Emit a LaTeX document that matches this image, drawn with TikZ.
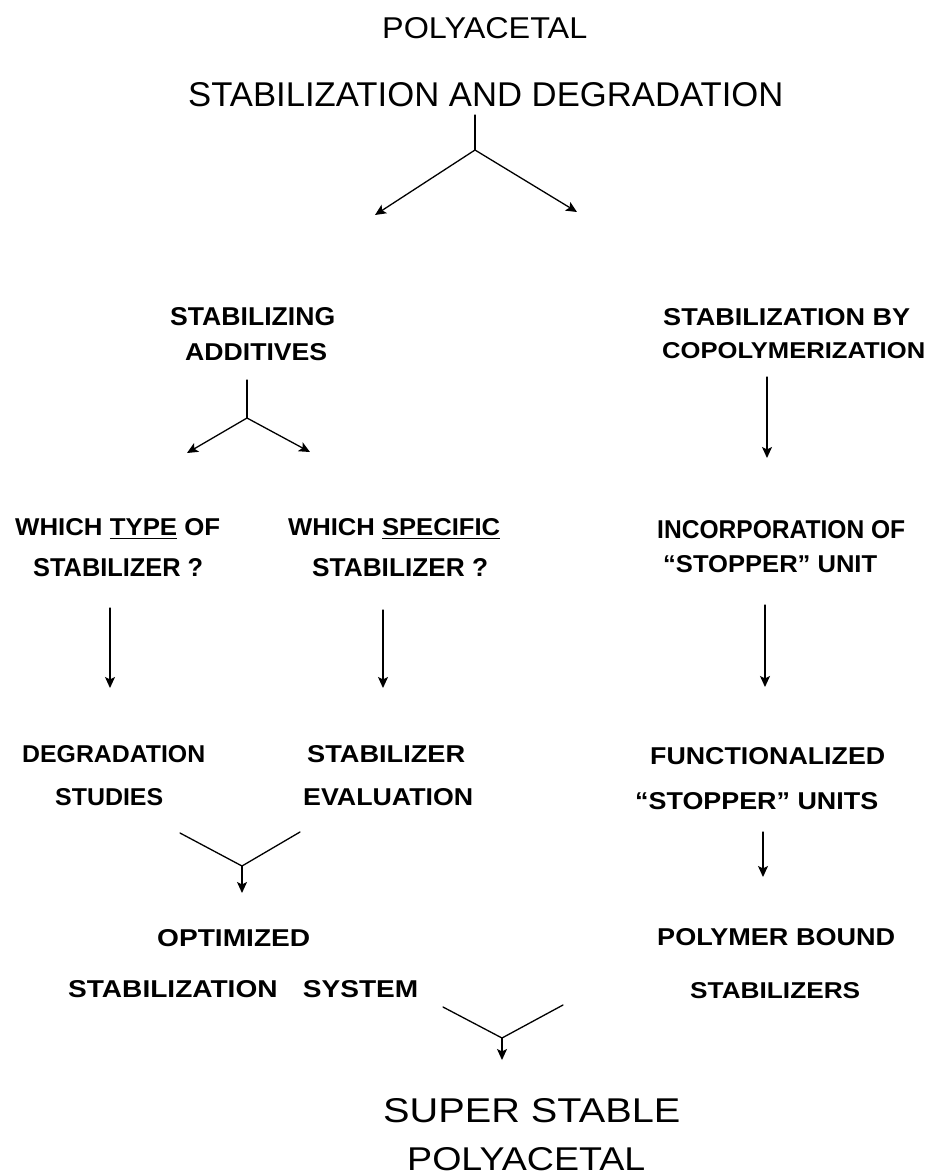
\documentclass[tikz,border=0pt]{standalone}
\usepackage{fontspec}
\usepackage{graphicx}
\setsansfont{Liberation Sans}
\usetikzlibrary{arrows.meta}
\newcommand{\fitln}[3]{\resizebox{#1pt}{#2pt}{#3}}
\tikzset{
  ttl/.style={anchor=base west, inner sep=0pt, font=\sffamily},
  lbl/.style={anchor=base west, inner sep=0pt, font=\sffamily\bfseries},
  conn/.style={line width=1.3pt, line cap=round, line join=round},
  arr/.style={conn, -{Stealth[length=11pt,width=10pt,inset=2.5pt]}}
}
\begin{document}
\begin{tikzpicture}[x=1pt,y=-1pt]
\useasboundingbox (0,0) rectangle (932,1176);
% titles
\node[ttl] (t1) at (382,38) {\fitln{205}{21}{POLYACETAL}};
\node[ttl] (t2) at (188,106) {\fitln{595}{24}{STABILIZATION AND DEGRADATION}};
% stabilizing additives
\node[lbl] (a1) at (170,325) {\fitln{165}{18}{STABILIZING}};
\node[lbl] (a2) at (185,360) {\fitln{142}{17}{ADDITIVES}};
% copolymerization
\node[lbl] (c1) at (663,325) {\fitln{247}{17}{STABILIZATION BY}};
\node[lbl] (c2) at (662,358) {\fitln{263}{16}{COPOLYMERIZATION}};
% which type
\node[lbl] (w1) at (15,535) {\fitln{205}{17}{WHICH \underline{TYPE} OF}};
\node[lbl] (w2) at (33,576) {\fitln{170}{18}{STABILIZER ?}};
% which specific
\node[lbl] (s1) at (288,535) {\fitln{212}{17}{WHICH \underline{SPECIFIC}}};
\node[lbl] (s2) at (312,576) {\fitln{176}{18}{STABILIZER ?}};
% incorporation
\node[lbl] (i1) at (657,538) {\fitln{248}{18}{INCORPORATION OF}};
\node[lbl] (i2) at (663,572) {\fitln{214}{17}{“STOPPER” UNIT}};
% degradation studies
\node[lbl] (d1) at (22,762) {\fitln{183}{17}{DEGRADATION}};
\node[lbl] (d2) at (55,805) {\fitln{108}{17}{STUDIES}};
% stabilizer evaluation
\node[lbl] (e1) at (307,762) {\fitln{158}{17}{STABILIZER}};
\node[lbl] (e2) at (303,805) {\fitln{170}{17}{EVALUATION}};
% functionalized
\node[lbl] (f1) at (650,764) {\fitln{235}{17}{FUNCTIONALIZED}};
\node[lbl] (f2) at (635,809) {\fitln{243}{17}{“STOPPER” UNITS}};
% optimized
\node[lbl] (o1) at (157,946) {\fitln{153}{17}{OPTIMIZED}};
\node[lbl] (o2) at (68,997) {\fitln{350}{17}{STABILIZATION\hspace{0.9em}SYSTEM}};
% polymer bound
\node[lbl] (p1) at (657,945) {\fitln{238}{17}{POLYMER BOUND}};
\node[lbl] (p2) at (690,998) {\fitln{170}{16}{STABILIZERS}};
% super stable
\node[ttl] (z1) at (383,1122) {\fitln{297}{24}{SUPER STABLE}};
\node[ttl] (z2) at (407,1170) {\fitln{238}{23}{POLYACETAL}};

% connector points
\coordinate (j0s) at (475,115);
\coordinate (j0) at (475,150);
\coordinate (j0l) at (375,215);
\coordinate (j0r) at (577,212);
\coordinate (j1s) at (247,380);
\coordinate (j1) at (247,418);
\coordinate (j1l) at (187,453);
\coordinate (j1r) at (310,452);
\coordinate (cS) at (767,377);
\coordinate (cE) at (767,458);
\coordinate (wS) at (110,608);
\coordinate (wE) at (110,688);
\coordinate (sS) at (383,610);
\coordinate (sE) at (383,688);
\coordinate (iS) at (765,605);
\coordinate (iE) at (765,687);
\coordinate (fS) at (763,832);
\coordinate (fE) at (763,877);
\coordinate (m1l) at (180,833);
\coordinate (m1r) at (300,832);
\coordinate (m1) at (242,866);
\coordinate (m1e) at (242,893);
\coordinate (m2l) at (443,1007);
\coordinate (m2r) at (563,1005);
\coordinate (m2) at (502,1038);
\coordinate (m2e) at (502,1060);

\draw[conn] (j0s) -- (j0);
\draw[arr] (j0) -- (j0l);
\draw[arr] (j0) -- (j0r);
\draw[conn] (j1s) -- (j1);
\draw[arr] (j1) -- (j1l);
\draw[arr] (j1) -- (j1r);
\draw[arr] (cS) -- (cE);
\draw[arr] (wS) -- (wE);
\draw[arr] (sS) -- (sE);
\draw[arr] (iS) -- (iE);
\draw[arr] (fS) -- (fE);
\draw[conn] (m1l) -- (m1) -- (m1r);
\draw[arr] (m1) -- (m1e);
\draw[conn] (m2l) -- (m2) -- (m2r);
\draw[arr] (m2) -- (m2e);
\end{tikzpicture}
\end{document}
